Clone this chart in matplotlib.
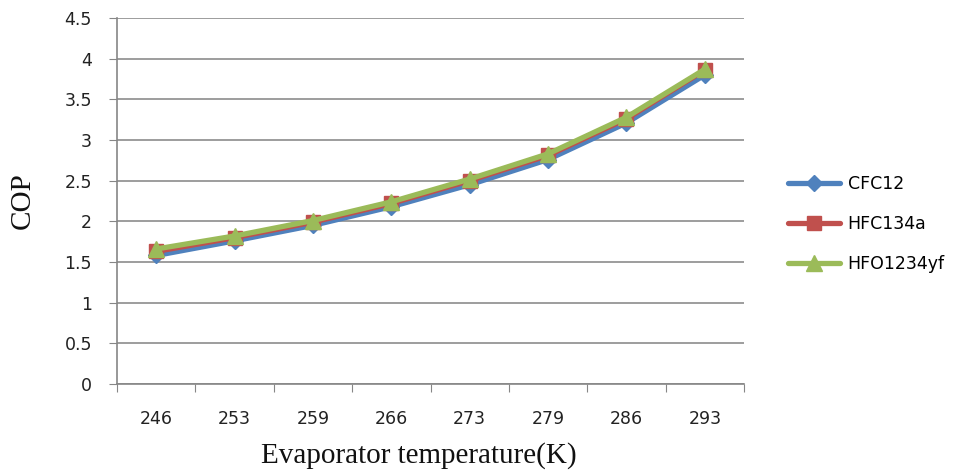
import matplotlib
matplotlib.use('Agg')
import matplotlib.pyplot as plt
import numpy as np

# evaporator temperatures (K) and COP of each refrigerant
temps = ['246', '253', '259', '266', '273', '279', '286', '293']
cop_cfc12 = [1.58, 1.76, 1.95, 2.18, 2.45, 2.76, 3.21, 3.80]
cop_hfc134a = [1.63, 1.80, 1.99, 2.22, 2.50, 2.81, 3.26, 3.86]
cop_hfo1234yf = [1.66, 1.82, 2.01, 2.24, 2.52, 2.83, 3.28, 3.87]

series = [
    ('CFC12', cop_cfc12, '#4F81BD', 'D', 8),
    ('HFC134a', cop_hfc134a, '#C0504D', 's', 10),
    ('HFO1234yf', cop_hfo1234yf, '#9BBB59', '^', 11),
]

fig = plt.figure(figsize=(9.68, 4.70), dpi=100)
ax = fig.add_axes([0.1209, 0.183, 0.6477, 0.7787])

x = np.arange(len(temps)) + 0.5
for name, vals, color, marker, ms in series:
    ax.plot(x, vals, color=color, lw=3.8, marker=marker, markersize=ms,
            label=name, solid_capstyle='round')

ax.set_xlim(0, len(temps))
ax.set_ylim(0, 4.5)
ax.set_yticks(np.arange(0, 4.51, 0.5))
ax.set_yticklabels(['0', '0.5', '1', '1.5', '2', '2.5', '3', '3.5', '4', '4.5'])

# category labels sit between the boundary ticks
ax.set_xticks(np.arange(len(temps) + 1))
ax.set_xticklabels([])
ax.set_xticks(x, minor=True)
ax.set_xticklabels(temps, minor=True)
ax.tick_params(axis='x', which='minor', length=0, pad=19)
ax.tick_params(axis='x', which='major', length=6, color='#868686', direction='out')
ax.tick_params(axis='y', length=6, color='#868686', direction='out', pad=12)
ax.tick_params(which='both', labelsize=12.5, labelcolor='#222222')

ax.yaxis.grid(True, color='#8c8c8c', lw=1.2)
ax.set_axisbelow(True)
for side in ['top', 'right']:
    ax.spines[side].set_visible(False)
for side in ['left', 'bottom']:
    ax.spines[side].set_color('#868686')
    ax.spines[side].set_linewidth(1.2)

ax.set_xlabel('Evaporator temperature(K)', family='Liberation Serif',
              fontsize=21, color='#111111')
ax.xaxis.set_label_coords(0.482, -0.158)
ax.set_ylabel('COP', family='Liberation Serif', fontsize=21, color='#111111')
ax.yaxis.set_label_coords(-0.13, 0.5)

ax.legend(loc='center left', bbox_to_anchor=(1.045, 0.437), frameon=False,
          fontsize=12.5, handlelength=3.0, handletextpad=0.45,
          labelspacing=1.25, markerscale=1.0)

fig.savefig('out.png', dpi=100)
